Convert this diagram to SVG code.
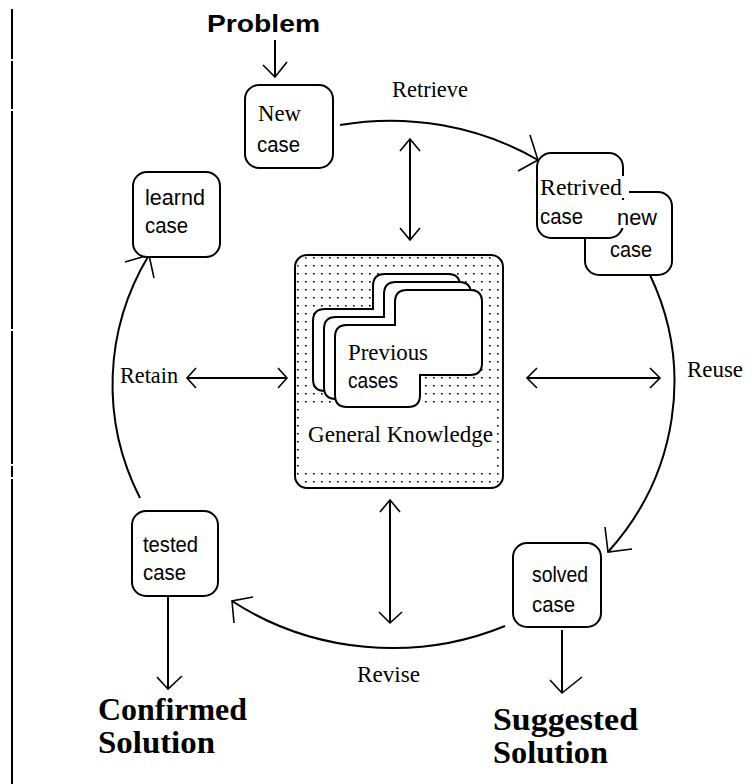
<svg xmlns="http://www.w3.org/2000/svg" xmlns:xlink="http://www.w3.org/1999/xlink" width="745" height="784" viewBox="0 0 745 784">
  <style>
    .box { fill: #fff; stroke: #000; stroke-width: 2; }
    .ln { fill: none; stroke: #000; stroke-width: 2; }
    .hd { fill: none; stroke: #000; stroke-width: 1.6; }
    .serif { font-family: "Liberation Serif", "Times New Roman", serif; font-size: 24px; fill: #000; }
    .sans { font-family: "Liberation Sans", Arial, sans-serif; font-size: 22px; fill: #000; }
    .big { font-family: "Liberation Serif", "Times New Roman", serif; font-size: 32px; font-weight: bold; fill: #000; }
    .prob { font-family: "Liberation Sans", Arial, sans-serif; font-size: 24px; font-weight: bold; fill: #000; }
  </style>
  <defs>
    <pattern id="dots" patternUnits="userSpaceOnUse" x="1" y="1" width="8" height="8">
      <rect x="0" y="0" width="1.6" height="1.6" fill="#000"/>
    </pattern>
    <path id="stack" d="M335,337 Q335,325 347,325 L395,325 L395,302 Q395,290 407,290 L470,290 Q482,290 482,302 L482,363 Q482,375 470,375 L420,375 L420,395 Q420,407 408,407 L347,407 Q335,407 335,395 Z"/>
  </defs>

  <rect width="745" height="784" fill="#fff"/>

  <!-- page rule on the left -->
  <path class="ln" d="M12,9 V59 M12,61 V109 M12,111 V329 M12,331 V464 M12,466 V477 M12,479 V784"/>

  <!-- cycle connectors and knowledge links -->
  <g id="connectors">
    <!-- Retrieve -->
    <path class="ln" d="M340,125 A281,263 0 0 1 538,160"/>
    <polyline class="hd" points="530,135 538,160 518,171"/>
    <!-- Reuse -->
    <path class="ln" d="M650,275 A281,263 0 0 1 608,552"/>
    <polyline class="hd" points="605,527 608,552 632,549"/>
    <!-- Revise -->
    <path class="ln" d="M505,626 A281,263 0 0 1 232,601"/>
    <polyline class="hd" points="253,597 232,601 234,623"/>
    <!-- Retain -->
    <path class="ln" d="M140,498 A281,263 0 0 1 149,255"/>
    <polyline class="hd" points="125,262 149,255 154,278"/>

    <!-- Problem into new case -->
    <line class="ln" x1="275" y1="40" x2="275" y2="77"/>
    <polyline class="hd" points="263,65 275,77 287,62"/>

    <!-- knowledge links -->
    <line class="ln" x1="410" y1="139" x2="410" y2="240"/>
    <polyline class="hd" points="400,151 410,139 420,151"/>
    <polyline class="hd" points="400,228 410,240 420,228"/>

    <line class="ln" x1="188" y1="378" x2="287" y2="378"/>
    <polyline class="hd" points="196,368 187,378 196,388"/>
    <polyline class="hd" points="278,368 287,378 278,388"/>

    <line class="ln" x1="528" y1="378" x2="660" y2="378"/>
    <polyline class="hd" points="537,368 527,378 537,388"/>
    <polyline class="hd" points="650,368 660,378 650,388"/>

    <line class="ln" x1="390" y1="500" x2="390" y2="623"/>
    <polyline class="hd" points="380,512 390,500 400,512"/>
    <polyline class="hd" points="379,612 390,623 402,612"/>

    <!-- outputs -->
    <line class="ln" x1="168" y1="596" x2="168" y2="689"/>
    <polyline class="hd" points="157,677 168,689 182,676"/>
    <line class="ln" x1="562" y1="630" x2="562" y2="693"/>
    <polyline class="hd" points="550,680 562,693 582,677"/>
  </g>

  <!-- labels -->
  <text class="prob" x="207" y="32" textLength="113" lengthAdjust="spacingAndGlyphs">Problem</text>
  <text class="serif" x="392" y="97" font-size="22" textLength="76" lengthAdjust="spacingAndGlyphs">Retrieve</text>
  <text class="serif" x="120" y="383" textLength="58" lengthAdjust="spacingAndGlyphs">Retain</text>
  <text class="serif" x="687" y="377" textLength="56" lengthAdjust="spacingAndGlyphs">Reuse</text>
  <text class="serif" x="357" y="682" textLength="63" lengthAdjust="spacingAndGlyphs">Revise</text>

  <g id="new-case">
    <rect class="box" x="245" y="85" width="88" height="83" rx="14"/>
    <text class="serif" x="258" y="121" textLength="43" lengthAdjust="spacingAndGlyphs">New</text>
    <text class="sans" x="257" y="152" textLength="43" lengthAdjust="spacingAndGlyphs">case</text>
  </g>

  <g id="retrieved-case">
    <rect class="box" x="585" y="192" width="87" height="83" rx="14"/>
    <rect class="box" x="537" y="153" width="86" height="85" rx="14"/>
    <rect x="539" y="176" width="90" height="22" fill="#fff"/>
    <rect x="612" y="200" width="48" height="28" fill="#fff"/>
    <text class="serif" x="540" y="195" textLength="82" lengthAdjust="spacingAndGlyphs">Retrived</text>
    <text class="sans" x="540" y="224" textLength="43" lengthAdjust="spacingAndGlyphs">case</text>
    <text class="sans" x="617" y="225" textLength="40" lengthAdjust="spacingAndGlyphs">new</text>
    <text class="sans" x="610" y="257" textLength="42" lengthAdjust="spacingAndGlyphs">case</text>
  </g>

  <g id="learned-case">
    <rect class="box" x="133" y="172" width="87" height="85" rx="14"/>
    <text class="sans" x="145" y="205" textLength="60" lengthAdjust="spacingAndGlyphs">learnd</text>
    <text class="sans" x="145" y="233" textLength="43" lengthAdjust="spacingAndGlyphs">case</text>
  </g>

  <g id="general-knowledge">
    <rect x="295" y="255" width="208" height="233" rx="12" fill="#fff"/>
    <rect x="297" y="257" width="204" height="229" rx="11" fill="url(#dots)"/>
    <rect x="302" y="408" width="194" height="62" fill="#fff"/>
    <rect x="295" y="255" width="208" height="233" rx="12" fill="none" stroke="#000" stroke-width="2"/>
    <use xlink:href="#stack" class="box" transform="translate(-22,-16)"/>
    <use xlink:href="#stack" class="box" transform="translate(-11,-8)"/>
    <use xlink:href="#stack" class="box"/>
    <text class="serif" x="348" y="360" textLength="80" lengthAdjust="spacingAndGlyphs">Previous</text>
    <text class="sans" x="348" y="388" textLength="50" lengthAdjust="spacingAndGlyphs">cases</text>
    <text class="serif" x="308" y="442" textLength="185" lengthAdjust="spacingAndGlyphs">General Knowledge</text>
  </g>

  <g id="tested-case">
    <rect class="box" x="132" y="511" width="86" height="85" rx="14"/>
    <text class="sans" x="143" y="552" textLength="55" lengthAdjust="spacingAndGlyphs">tested</text>
    <text class="sans" x="143" y="580" textLength="43" lengthAdjust="spacingAndGlyphs">case</text>
  </g>

  <g id="solved-case">
    <rect class="box" x="513" y="543" width="88" height="84" rx="14"/>
    <text class="sans" x="532" y="582" textLength="56" lengthAdjust="spacingAndGlyphs">solved</text>
    <text class="sans" x="532" y="612" textLength="43" lengthAdjust="spacingAndGlyphs">case</text>
  </g>

  <g id="confirmed-solution">
    <text class="big" x="98" y="720" textLength="149" lengthAdjust="spacingAndGlyphs">Confirmed</text>
    <text class="big" x="98" y="753" textLength="117" lengthAdjust="spacingAndGlyphs">Solution</text>
  </g>

  <g id="suggested-solution">
    <text class="big" x="493" y="730" textLength="145" lengthAdjust="spacingAndGlyphs">Suggested</text>
    <text class="big" x="493" y="763" textLength="115" lengthAdjust="spacingAndGlyphs">Solution</text>
  </g>
</svg>
